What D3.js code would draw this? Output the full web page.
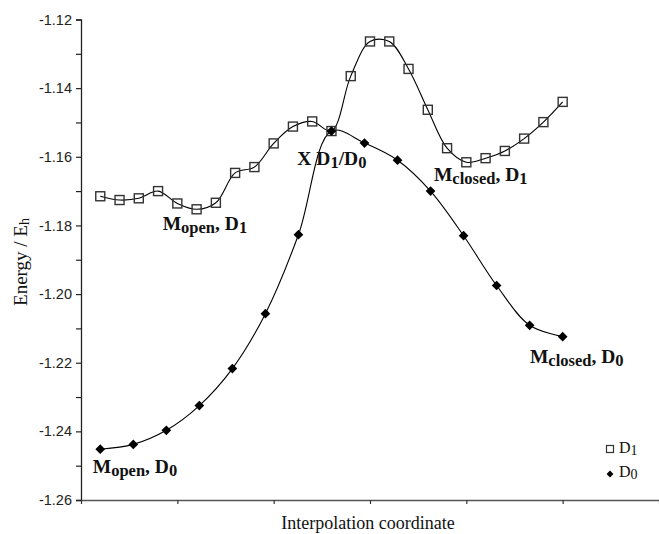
<!DOCTYPE html>
<html>
<head>
<meta charset="utf-8">
<script src="https://cdn.jsdelivr.net/npm/d3@7"></script>
<style>
  html, body { margin: 0; padding: 0; background: #fff; }
  svg { display: block; }
</style>
</head>
<body>
<div id="chart"></div>
<script>
// D1 (open squares): 25 points, D0 (filled diamonds): 15 points on the same span
const d1Energy = [
  -1.1715, -1.1726, -1.1721, -1.1700, -1.1736, -1.1753, -1.1734, -1.1647, -1.1630,
  -1.1561, -1.1512, -1.1497, -1.1525, -1.1365, -1.1264, -1.1264, -1.1344, -1.1463,
  -1.1575, -1.1616, -1.1604, -1.1583, -1.1547, -1.1499, -1.1440
];
const d0Energy = [
  -1.2452, -1.2438, -1.2397, -1.2325, -1.2217, -1.2057, -1.1827, -1.1525,
  -1.1560, -1.1610, -1.1700, -1.1830, -1.1975, -1.2091, -1.2124
];
const yTicks = [-1.12, -1.13, -1.14, -1.15, -1.16, -1.17, -1.18, -1.19, -1.20,
                -1.21, -1.22, -1.23, -1.24, -1.25, -1.26];
const yLabels = [-1.12, -1.14, -1.16, -1.18, -1.20, -1.22, -1.24, -1.26];
const xTicks = [0, 5, 10, 15, 20, 25, 30];

// labels placed in data units: [main, sub, main, sub, ...]
const notes = [
  {parts: ['M', 'open', ', D', '1'], x: 4.24, y: -1.1813},
  {parts: ['X D', '1', '/D', '0'], x: 11.23, y: -1.1624},
  {parts: ['M', 'closed', ', D', '1'], x: 18.32, y: -1.1671},
  {parts: ['M', 'open', ', D', '0'], x: 0.61, y: -1.2522},
  {parts: ['M', 'closed', ', D', '0'], x: 23.30, y: -1.2200}
];

const width = 659, height = 534;
const x = d3.scaleLinear().domain([0, 30]).range([81, 659]);
const y = d3.scaleLinear().domain([-1.26, -1.12]).range([500, 19.5]);

const d1 = d1Energy.map((v, i) => ({x: i + 1, y: v}));
const d0 = d0Energy.map((v, i) => ({x: 1 + i * 24 / 14, y: v}));

const svg = d3.select('#chart').append('svg')
    .attr('width', width)
    .attr('height', height);

// axes
svg.append('g')
    .attr('transform', `translate(${x(0)},0)`)
    .call(d3.axisLeft(y).tickValues(yTicks).tickSize(5).tickFormat(''))
    .call(g => g.select('.domain').attr('stroke', '#222').attr('stroke-width', 1.3))
    .call(g => g.selectAll('line').attr('stroke', '#222').attr('stroke-width', 1.2));

svg.append('g')
    .attr('transform', `translate(0,${y(-1.26)})`)
    .call(d3.axisBottom(x).tickValues(xTicks).tickSize(4).tickSizeOuter(0).tickFormat(''))
    .call(g => g.select('.domain').attr('stroke', '#555').attr('stroke-width', 1.6))
    .call(g => g.selectAll('line').attr('stroke', '#333').attr('stroke-width', 1.2));

svg.append('g')
    .selectAll('text')
    .data(yLabels)
    .enter()
    .append('text')
    .attr('x', 72)
    .attr('y', d => y(d))
    .attr('dy', '0.35em')
    .attr('text-anchor', 'end')
    .style('font-family', '"Liberation Sans", Arial, sans-serif')
    .style('font-size', '14.5px')
    .style('fill', '#222')
    .text(d => d.toFixed(2));

// axis titles
const yTitle = svg.append('text')
    .attr('transform', 'translate(27,262) rotate(-90)')
    .attr('text-anchor', 'middle')
    .style('font-family', '"Liberation Serif", "Times New Roman", serif')
    .style('font-size', '19px')
    .style('fill', '#111');
yTitle.append('tspan').text('Energy / E');
yTitle.append('tspan').attr('dy', 2).style('font-size', '14px').text('h');

svg.append('text')
    .attr('x', 368)
    .attr('y', 529)
    .attr('text-anchor', 'middle')
    .style('font-family', '"Liberation Serif", "Times New Roman", serif')
    .style('font-size', '18px')
    .style('fill', '#111')
    .text('Interpolation coordinate');

// curves
const line = d3.line()
    .x(d => x(d.x))
    .y(d => y(d.y))
    .curve(d3.curveCatmullRom.alpha(0.5));

svg.append('path')
    .datum(d1)
    .attr('d', line)
    .attr('fill', 'none')
    .attr('stroke', '#000')
    .attr('stroke-width', 1.1);

svg.append('path')
    .datum(d0)
    .attr('d', line)
    .attr('fill', 'none')
    .attr('stroke', '#000')
    .attr('stroke-width', 1.1);

const sq = 9;
svg.append('g')
    .selectAll('rect')
    .data(d1)
    .enter()
    .append('rect')
    .attr('x', d => x(d.x) - sq / 2)
    .attr('y', d => y(d.y) - sq / 2)
    .attr('width', sq)
    .attr('height', sq)
    .attr('fill', 'none')
    .attr('stroke', '#333')
    .attr('stroke-width', 1.4);

const diamond = d3.symbol().type(d3.symbolDiamond2).size(60);
svg.append('g')
    .selectAll('path')
    .data(d0)
    .enter()
    .append('path')
    .attr('d', diamond)
    .attr('transform', d => `translate(${x(d.x)},${y(d.y)})`)
    .attr('fill', '#000');

// annotations
notes.forEach(n => {
    const t = svg.append('text')
        .attr('x', x(n.x))
        .attr('y', y(n.y))
        .style('font-family', '"Liberation Serif", "Times New Roman", serif')
        .style('font-weight', 'bold')
        .style('fill', '#111');
    n.parts.forEach((p, i) => {
        const isSub = i % 2 === 1;
        t.append('tspan')
            .attr('dy', i === 0 ? 0 : (isSub ? 3 : -3))
            .style('font-size', isSub ? '16.5px' : '19.5px')
            .text(p);
    });
});

// legend
const legend = svg.append('g');
legend.append('rect')
    .attr('x', 606.5).attr('y', 445.5)
    .attr('width', 7).attr('height', 7)
    .attr('fill', 'none')
    .attr('stroke', '#333')
    .attr('stroke-width', 1.2);
legend.append('path')
    .attr('d', d3.symbol().type(d3.symbolDiamond2).size(30))
    .attr('transform', 'translate(610,474)')
    .attr('fill', '#000');
[['D', '1', 453], ['D', '0', 477]].forEach(([a, b, yy]) => {
    const t = legend.append('text')
        .attr('x', 619)
        .attr('y', yy)
        .style('font-family', '"Liberation Serif", "Times New Roman", serif')
        .style('font-size', '16px')
        .style('fill', '#111');
    t.append('tspan').text(a);
    t.append('tspan').attr('dy', 2).style('font-size', '14px').text(b);
});
</script>
</body>
</html>
